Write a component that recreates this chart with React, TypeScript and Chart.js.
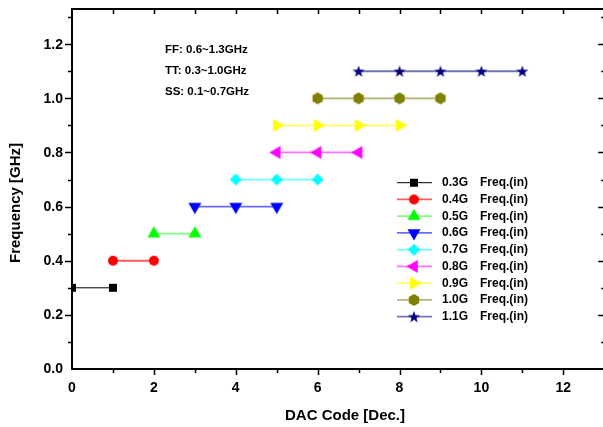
import React, { useEffect, useRef } from 'react';
import { Chart, registerables } from 'chart.js';

Chart.register(...registerables);

// ---- Data ----
const seriesLabels = ['0.3G', '0.4G', '0.5G', '0.6G', '0.7G', '0.8G', '0.9G', '1.0G', '1.1G'];
const legendSuffix = 'Freq.(in)';

const dac03 = [0, 1];
const freq03 = [0.3, 0.3];
const dac04 = [1, 2];
const freq04 = [0.4, 0.4];
const dac05 = [2, 3];
const freq05 = [0.5, 0.5];
const dac06 = [3, 4, 5];
const freq06 = [0.6, 0.6, 0.6];
const dac07 = [4, 5, 6];
const freq07 = [0.7, 0.7, 0.7];
const dac08 = [5, 6, 7];
const freq08 = [0.8, 0.8, 0.8];
const dac09 = [5, 6, 7, 8];
const freq09 = [0.9, 0.9, 0.9, 0.9];
const dac10 = [6, 7, 8, 9];
const freq10 = [1.0, 1.0, 1.0, 1.0];
const dac11 = [7, 8, 9, 10, 11];
const freq11 = [1.1, 1.1, 1.1, 1.1, 1.1];

const allDac = [dac03, dac04, dac05, dac06, dac07, dac08, dac09, dac10, dac11];
const allFreq = [freq03, freq04, freq05, freq06, freq07, freq08, freq09, freq10, freq11];

const cornerNotes = ['FF: 0.6~1.3GHz', 'TT: 0.3~1.0GHz', 'SS: 0.1~0.7GHz'];
const xTitle = 'DAC Code [Dec.]';
const yTitle = 'Frequency [GHz]';

// ---- Styles ----
const markerKinds = ['square', 'circle', 'triUp', 'triDown', 'diamond', 'triLeft', 'triRight', 'hexagon', 'star'];
const markerColors = ['#000000', '#ff0000', '#00ff00', '#0000ff', '#00ffff', '#ff00ff', '#ffff00', '#808000', '#000080'];
const lineColors = ['#000000', '#ff5a5a', '#80ff80', '#6a6aff', '#70ffff', '#ff70ff', '#ffff60', '#b4b474', '#7272b8'];
const lineWidths = [1, 1.8, 1.8, 1.8, 1.8, 1.8, 1.8, 1.8, 1.8];

const FONT = '"Liberation Sans", Arial, sans-serif';

function makeMarker(kind: string, color: string): HTMLCanvasElement {
  const S = 18;
  const c = document.createElement('canvas');
  c.width = S;
  c.height = S;
  const g = c.getContext('2d')!;
  const cx = S / 2;
  const cy = S / 2;
  g.fillStyle = color;
  g.beginPath();
  const poly = (pts: number[][]) => {
    g.moveTo(cx + pts[0][0], cy + pts[0][1]);
    for (let i = 1; i < pts.length; i++) g.lineTo(cx + pts[i][0], cy + pts[i][1]);
    g.closePath();
  };
  const tri = (rot: number) => {
    const r = 7.5;
    const pts: number[][] = [];
    for (let i = 0; i < 3; i++) {
      const a = rot + (i * 2 * Math.PI) / 3 - Math.PI / 2;
      pts.push([r * Math.cos(a), r * Math.sin(a)]);
    }
    poly(pts);
  };
  switch (kind) {
    case 'square':
      g.rect(cx - 4, cy - 4, 8, 8);
      break;
    case 'circle':
      g.arc(cx, cy, 5, 0, Math.PI * 2);
      break;
    case 'triUp':
      tri(0);
      break;
    case 'triDown':
      tri(Math.PI);
      break;
    case 'triLeft':
      tri(-Math.PI / 2);
      break;
    case 'triRight':
      tri(Math.PI / 2);
      break;
    case 'diamond':
      poly([[0, -6], [6, 0], [0, 6], [-6, 0]]);
      break;
    case 'hexagon': {
      const pts: number[][] = [];
      for (let i = 0; i < 6; i++) {
        const a = (i * Math.PI) / 3 - Math.PI / 2;
        pts.push([6 * Math.cos(a), 6 * Math.sin(a)]);
      }
      poly(pts);
      break;
    }
    case 'star': {
      const pts: number[][] = [];
      for (let i = 0; i < 10; i++) {
        const a = (i * Math.PI) / 5 - Math.PI / 2;
        const r = i % 2 === 0 ? 6.3 : 2.6;
        pts.push([r * Math.cos(a), r * Math.sin(a) + 0.5]);
      }
      poly(pts);
      break;
    }
  }
  g.fill();
  return c;
}

export default function App() {
  const ref = useRef<HTMLCanvasElement | null>(null);

  useEffect(() => {
    if (!ref.current) return;
    const markers = markerKinds.map((k, i) => makeMarker(k, markerColors[i]));

    const datasets = seriesLabels.map((label, i) => ({
      label: label + ' ' + legendSuffix,
      data: allDac[i].map((x, j) => ({ x, y: allFreq[i][j] })),
      showLine: true,
      borderColor: lineColors[i],
      backgroundColor: markerColors[i],
      borderWidth: lineWidths[i],
      pointStyle: markers[i] as any,
      pointRadius: 6,
      order: 9 - i,
    }));

    const framePlugin = {
      id: 'frame',
      beforeDatasetsDraw(chart: any) {
        const { ctx, chartArea, scales } = chart;
        const { left, right, top, bottom } = chartArea;
        const x = scales.x;
        const y = scales.y;
        ctx.save();
        ctx.strokeStyle = '#000';
        ctx.lineWidth = 2;
        ctx.strokeRect(left, top, right - left, bottom - top);
        ctx.lineWidth = 1.5;
        ctx.beginPath();
        for (let v = 1; v <= 12; v++) {
          const px = Math.round(x.getPixelForValue(v)) + 0.5;
          const major = v % 2 === 0;
          ctx.moveTo(px, bottom);
          ctx.lineTo(px, bottom + (major ? 6 : 4));
          ctx.moveTo(px, top);
          ctx.lineTo(px, top + 5);
        }
        for (let i = 1; i <= 13; i++) {
          const py = Math.round(y.getPixelForValue(i / 10)) + 0.5;
          const major = i % 2 === 0;
          ctx.moveTo(left - (major ? 7 : 4), py);
          ctx.lineTo(left, py);
          ctx.moveTo(right - (major ? 6 : 3), py);
          ctx.lineTo(right, py);
        }
        ctx.stroke();
        // tick labels from the library's ticks
        ctx.fillStyle = '#000';
        ctx.font = `bold 14px ${FONT}`;
        ctx.textAlign = 'center';
        ctx.textBaseline = 'middle';
        x.ticks.forEach((t: any) => {
          ctx.fillText(String(t.value), x.getPixelForValue(t.value), bottom + 19.5);
        });
        ctx.textAlign = 'right';
        y.ticks.forEach((t: any) => {
          ctx.fillText(Number(t.value).toFixed(1), left - 9, y.getPixelForValue(t.value) + 0.5);
        });
        ctx.restore();
      },
      afterDraw(chart: any) {
        const { ctx } = chart;
        ctx.save();
        ctx.fillStyle = '#000';
        // corner notes
        ctx.font = `bold 11.5px ${FONT}`;
        ctx.textAlign = 'left';
        ctx.textBaseline = 'middle';
        cornerNotes.forEach((t, i) => ctx.fillText(t, 165, 50 + i * 21));
        // legend
        ctx.font = `bold 12px ${FONT}`;
        seriesLabels.forEach((lab, i) => {
          const yy = 182.7 + i * 16.75;
          ctx.strokeStyle = lineColors[i];
          ctx.lineWidth = lineWidths[i];
          ctx.beginPath();
          ctx.moveTo(397, yy);
          ctx.lineTo(432, yy);
          ctx.stroke();
          const m = markers[i];
          ctx.drawImage(m, 414 - m.width / 2, yy - m.height / 2);
          ctx.fillStyle = '#000';
          ctx.fillText(lab, 442, yy);
          ctx.fillText(legendSuffix, 480, yy);
        });
        // axis titles
        ctx.font = `bold 15px ${FONT}`;
        ctx.textAlign = 'center';
        ctx.textBaseline = 'middle';
        ctx.fillText(xTitle, 345, 416);
        ctx.translate(16, 203);
        ctx.rotate(-Math.PI / 2);
        ctx.fillText(yTitle, 0, 0);
        ctx.restore();
      },
    };

    const chart = new Chart(ref.current, {
      type: 'scatter',
      data: { datasets: datasets as any },
      options: {
        responsive: false,
        animation: false,
        layout: { padding: { top: 9, right: 0, left: 0, bottom: 0 } },
        plugins: { legend: { display: false }, tooltip: { enabled: false } },
        scales: {
          x: {
            type: 'linear',
            min: 0,
            max: 13,
            grid: { display: false, drawTicks: false },
            border: { display: false },
            ticks: { stepSize: 2, includeBounds: false, display: false },
            afterFit: (s: any) => {
              s.height = 58;
            },
          },
          y: {
            type: 'linear',
            min: 0,
            max: 1.33,
            grid: { display: false, drawTicks: false },
            border: { display: false },
            ticks: { stepSize: 0.2, includeBounds: false, display: false },
            afterFit: (s: any) => {
              s.width = 72;
            },
          },
        },
      } as any,
      plugins: [framePlugin],
    });
    return () => chart.destroy();
  }, []);

  return (
    <div style={{ position: 'absolute', left: 0, top: 0, width: 603, height: 427, background: '#fff', overflow: 'hidden' }}>
      <canvas ref={ref} width={612} height={427} style={{ display: 'block' }} />
    </div>
  );
}
